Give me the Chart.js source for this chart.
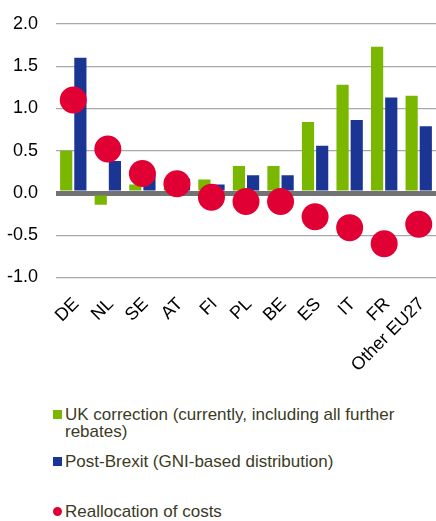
<!DOCTYPE html>
<html>
<head>
<meta charset="utf-8">
<script src="https://cdn.jsdelivr.net/npm/chart.js@4/dist/chart.umd.min.js"></script>
<style>
    body { margin: 0; background: #fff; font-family: "Liberation Sans", Arial, sans-serif; }
    #wrap { position: relative; width: 436px; height: 384px; }
    #legend { position: absolute; left: 53px; top: 406px; width: 380px; color: #3b3b1f; font-size: 17px; line-height: 17px; }
    .item { display: flex; align-items: flex-start; }
    .swatch { flex: none; width: 9px; height: 9px; margin: 4px 3px 0 0; }
    .dot { border-radius: 50%; }
</style>
</head>
<body>
<div id="wrap"><canvas id="chart"></canvas></div>
<div id="legend"></div>
<script>
const countries = ['DE', 'NL', 'SE', 'AT', 'FI', 'PL', 'BE', 'ES', 'IT', 'FR', 'Other EU27'];
const ukCorrection = [0.5, -0.14, 0.1, 0.06, 0.16, 0.32, 0.32, 0.84, 1.28, 1.73, 1.15];
const postBrexit = [1.6, 0.38, 0.24, 0.17, 0.1, 0.21, 0.21, 0.56, 0.865, 1.13, 0.79];
const reallocation = [1.1, 0.52, 0.23, 0.11, -0.05, -0.1, -0.1, -0.28, -0.41, -0.6, -0.37];
const yTicks = [-1.0, -0.5, 0.0, 0.5, 1.0, 1.5, 2.0];

const seriesLabels = [
    'UK correction (currently, including all further rebates)',
    'Post-Brexit (GNI-based distribution)',
    'Reallocation of costs'
];
const colors = ['#7ab800', '#1b3594', '#e10034'];

const ctx = document.getElementById('chart');

new Chart(ctx, {
    data: {
        labels: countries,
        datasets: [
            {
                type: 'line',
                label: seriesLabels[2],
                data: reallocation,
                showLine: false,
                pointRadius: 13.5,
                pointHoverRadius: 13.5,
                pointBackgroundColor: colors[2],
                pointBorderWidth: 0,
                order: 0
            },
            {
                type: 'bar',
                label: seriesLabels[0],
                data: ukCorrection,
                backgroundColor: colors[0],
                categoryPercentage: 0.82,
                barPercentage: 0.86,
                order: 1
            },
            {
                type: 'bar',
                label: seriesLabels[1],
                data: postBrexit,
                backgroundColor: colors[1],
                categoryPercentage: 0.82,
                barPercentage: 0.86,
                order: 1
            }
        ]
    },
    options: {
        responsive: true,
        maintainAspectRatio: false,
        animation: false,
        layout: { autoPadding: false, padding: { top: 0, right: 0, left: 7, bottom: 0 } },
        plugins: {
            legend: { display: false },
            tooltip: { enabled: false }
        },
        scales: {
            x: {
                grid: { display: false },
                border: { display: false },
                afterFit: (axis) => {
                    // rotated labels should not push the plot in from the sides
                    axis.paddingLeft = 0;
                    axis.paddingRight = 0;
                },
                ticks: {
                    color: '#000',
                    font: { family: 'Liberation Sans', size: 18 },
                    autoSkip: false,
                    maxRotation: 45,
                    minRotation: 45,
                    labelOffset: 3,
                    padding: 8
                }
            },
            y: {
                min: yTicks[0],
                max: yTicks[yTicks.length - 1],
                afterBuildTicks: (axis) => {
                    axis.ticks = yTicks.map(v => ({ value: v }));
                },
                afterFit: (axis) => {
                    // chart.js counts the tick padding on both sides of the labels
                    // and above the top label too
                    axis.width -= 18;
                    axis.paddingTop = 24;
                },
                border: { display: false },
                grid: {
                    color: (c) => c.tick && c.tick.value === 0 ? '#737373' : '#a9a9a9',
                    lineWidth: (c) => c.tick && c.tick.value === 0 ? 5 : 1.2,
                    drawTicks: false
                },
                ticks: {
                    color: '#000',
                    font: { family: 'Liberation Sans', size: 18 },
                    padding: 18,
                    callback: (v) => Number(v).toFixed(1)
                }
            }
        }
    }
});

const legend = document.getElementById('legend');
const legendGaps = [0, 13, 33];
seriesLabels.forEach((label, i) => {
    const item = document.createElement('div');
    item.className = 'item';
    item.style.marginTop = legendGaps[i] + 'px';
    const swatch = document.createElement('span');
    swatch.className = i === 2 ? 'swatch dot' : 'swatch';
    swatch.style.background = colors[i];
    const text = document.createElement('span');
    text.textContent = label;
    item.appendChild(swatch);
    item.appendChild(text);
    legend.appendChild(item);
});
</script>
</body>
</html>
